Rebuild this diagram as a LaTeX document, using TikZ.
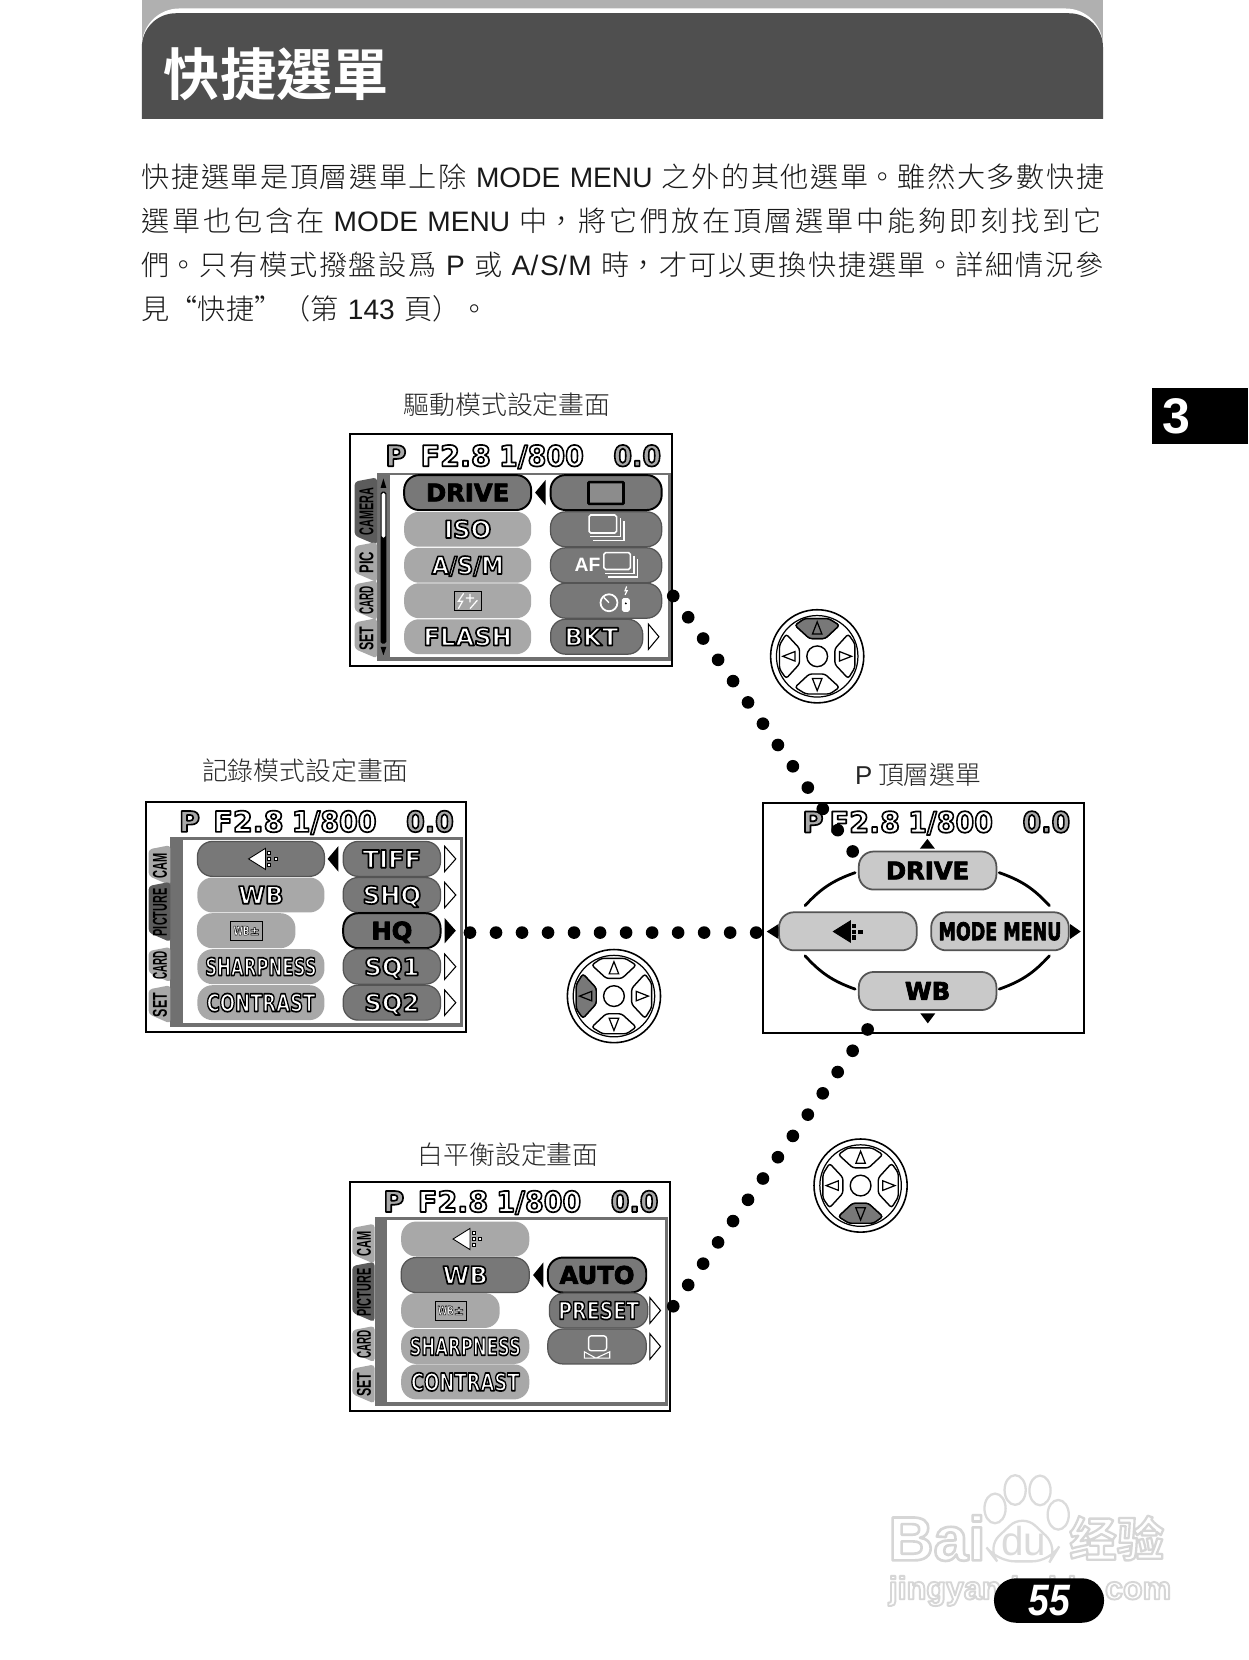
\documentclass[tikz,border=0pt]{standalone}
\usepackage{fontspec}
\setmainfont{Noto Sans CJK TC Light}[BoldFont=Noto Sans CJK TC Bold]
\newfontfamily\latn{Liberation Sans}
\newfontfamily\lcdfont{DejaVu Sans}
\usetikzlibrary{calc}
\XeTeXlinebreaklocale "zh"
\XeTeXlinebreakskip=0pt plus 3pt
\def\uu{0.02117cm}
\definecolor{bandgray}{gray}{.69}
\definecolor{headdark}{gray}{.31}
\definecolor{paneledge}{gray}{.44}
\definecolor{pillpale}{gray}{.66}
\definecolor{pillmid}{gray}{.47}
\definecolor{pillrim}{gray}{.33}
\definecolor{toppill}{gray}{.79}
\definecolor{tabpale}{gray}{.66}
\definecolor{tabdark}{gray}{.36}
\definecolor{markpale}{gray}{.86}
\def\rimw{.95}
% text with a stroked edge: edge gray, fill colour, word
\newcommand\rimtext[3]{\leavevmode{\color{#2}\special{pdf:code #1 G 1 j \rimw\space w 2 Tr}#3\special{pdf:code 0 Tr 0 j}}}
\newcommand\lcdword[2][1]{\scalebox{#1}[1]{\rimtext{0}{white}{#2}}}
\newcommand\lcdheavy[2][1]{\scalebox{#1}[1]{{\def\rimw{.45}\rimtext{0}{black}{#2}}}}
\tikzset{
	pill/.style={rounded corners=.3cm, minimum width=#1*\uu, minimum height=33*\uu, inner sep=0pt, text height=10pt, text depth=0pt, font=\lcdfont\bfseries\fontsize{13.8}{14}\selectfont},
	pilloff/.style={pill=#1, fill=pillpale},
	pillset/.style={pill=#1, fill=pillmid, draw=pillrim, line width=.7pt},
	pillon/.style={pill=#1, fill=pillmid, draw=black, line width=1.1pt},
	pilltop/.style={pill=#1, fill=toppill, draw=pillrim, line width=1pt, minimum height=36*\uu},
	screenbox/.style={draw=black, line width=1.1pt, inner sep=0pt},
	caption/.style={font=\fontsize{14.7}{16}\selectfont, inner sep=0pt, text=black!85},
	headword/.style={font=\lcdfont\bfseries\fontsize{16.3}{17}\selectfont, inner sep=0pt, text height=11.9pt, text depth=0pt},
	tabword/.style={font=\latn\bfseries\fontsize{11.4}{12}\selectfont, inner sep=0pt, rotate=90},
	dotline/.style={line width=7.2pt, line cap=round, dash pattern=on 0pt off 14.8pt},
	ringline/.style={line width=1.6pt, line cap=round}
}
% header line of an lcd screen
\newcommand\lcdhead[4]{
	\node[headword] (#1P) at (#2,#4) {\rimtext{0}{pillpale}{P}};
	\node[headword] (#1F) at (#3,#4) {\rimtext{0}{white}{F2.8}};
	\node[headword] (#1T) at (#3+81,#4) {\scalebox{.94}[1]{\rimtext{0}{white}{1/800}}};
	\node[headword] (#1E) at (#3+171.5,#4) {\scalebox{.94}[1]{\rimtext{0}{pillpale}{0.0}}};
}
\newcommand\lcdpanel[4]{
	\fill[paneledge] (#1,#3) rectangle (#2,#4);
	\fill[white] (#1+12,#3+2.3) rectangle (#2-2.5,#4-3.5);
}
\newcommand\lcdtab[7]{
	\fill[#5, rounded corners=2pt] (#2,#3-3) -- (#1,#3+1) -- (#1,#4-7) -- (#2,#4+2) -- cycle;
	\node[tabword] (tab#7) at ({(#1+#2)/2+.5},{(#3+#4)/2}) {\scalebox{#6}[1]{#7}};
}
\newcommand\solidleft[3]{\fill (#1,#3) -- (#2,#3-12) -- (#2,#3+12) -- cycle;}
\newcommand\openright[3]{\draw[line width=.6pt, fill=white] (#2,#3) -- (#1,#3-12) -- (#1,#3+12) -- cycle;}
\newcommand\burst[4]{
	\draw[white, line width=.9pt, rounded corners=1pt] (#1,#2) rectangle (#1+#3,#2+#4);
	\draw[white, line width=.7pt] (#1+#3+3.5,#2+3) -- (#1+#3+3.5,#2+#4+3.5) -- (#1+1,#2+#4+3.5);
	\draw[white, line width=.7pt] (#1+#3+7,#2+6) -- (#1+#3+7,#2+#4+7) -- (#1+4,#2+#4+7);
}
\newcommand\qualmark[4]{
	\draw[fill=#3, draw=#4, line width=.5pt] (#1,#2) -- (#1+16,#2-10) -- (#1+16,#2+10) -- cycle;
	\foreach \sy in {-7,-1.5,4}{\draw[fill=#3, draw=#4, line width=.4pt] (#1+18,#2+\sy) rectangle (#1+21,#2+\sy+3);}
	\draw[fill=#3, draw=#4, line width=.4pt] (#1+24,#2-1.5) rectangle (#1+27,#2+1.5);
}
\newcommand\padkey[2]{
	\draw[rotate=#1, fill=#2, line width=.8pt, rounded corners=1.5pt] (-21,-29.3) -- (-12,-35.6) -- (10.8,-35.6) -- (21,-29.3) -- (7.5,-16.7) -- (-7.2,-16.7) -- cycle;
	\draw[rotate=#1, line width=.7pt] (0,-32.5) -- (4.5,-21) -- (-4.5,-21) -- cycle;
}
\newcommand\cursorpad[3]{
	\begin{scope}[shift={(#1,#2)}]
		\draw[line width=.9pt, fill=white] (0,0) circle (44);
		\draw[line width=.7pt] (0,0) circle (38.5);
		\draw[line width=.8pt] (0,0) circle (9.8);
		\foreach \r in {0,90,180,270}{\padkey{\r}{white}}
		\padkey{#3}{pillmid}
	\end{scope}
}

\begin{document}
\begin{tikzpicture}[x=\uu, y=-\uu]
			%%%%% PAGE %%%%%
			\useasboundingbox (0,0) rectangle (1179,1568.2);
			\fill[white] (0,0) rectangle (1179,1568.2);
			
			\fill[bandgray] (134,0) rectangle (1042,70);
			\fill[white, rounded corners=.75cm] (134,112) -- (134,8) -- (1042,8) -- (1042,112) -- cycle;
			\fill[headdark, rounded corners=.68cm] (134,150) -- (134,12.5) -- (1042,12.5) -- (1042,150) -- cycle;
			\fill[white] (130,112) rectangle (1046,155);
			\node[font=\bfseries\fontsize{32}{33}\selectfont, text=white, inner sep=0pt, anchor=west] (title) at (154.5,70) {快捷選單};
			
			\node[anchor=west, inner sep=0pt, text width=923*\uu, font=\fontsize{16}{25.1}\selectfont, text=black!90] (intro) at (133.5,229.5) {\tolerance=9999\parfillskip=0pt
				快捷選單是頂層選單上除 {\latn MODE MENU} 之外的其他選單。雖然大多數快捷\kern-1.2pt\par
				選單也包含在 {\latn MODE MENU} 中，將它們放在頂層選單中能夠即刻找到它\kern-7pt\par
				們。只有模式撥盤設爲 {\latn P} 或 {\latn A/S/M} 時，才可以更換快捷選單。詳細情況參\kern-1.8pt\par
				\parfillskip=0pt plus 1fil 見“快捷”（第 {\latn 143} 頁）。};
			
			\fill[black] (1088,367) rectangle (1179,419);
			\node[font=\latn\bfseries\fontsize{28.5}{30}\selectfont, text=white, inner sep=0pt] (chapter) at (1111,393) {3};
			
			%%%%% DRIVE SCREEN %%%%%
			\node[caption] (driveCaption) at (479,382) {驅動模式設定畫面};
			\node[screenbox, minimum width=304*\uu, minimum height=219*\uu] (driveScreen) at (483,519.5) {};
			\lcdhead{drive}{374}{430.5}{430.5}
			\lcdpanel{356.2}{633.5}{446.6}{624.2}
			\lcdtab{335}{356.2}{454}{513}{tabdark}{.54}{CAMERA}
			\lcdtab{335}{356.2}{515}{548}{tabpale}{.65}{PIC}
			\lcdtab{335}{356.2}{551}{584}{tabpale}{.49}{CARD}
			\lcdtab{335}{356.2}{587}{620}{tabpale}{.62}{SET}
			\fill[black, rounded corners=1pt] (359.5,464.5) rectangle (365,608);
			\fill[white, rounded corners=1pt] (360.5,465.5) rectangle (364,508);
			\fill[black] (362.2,452) -- (359.5,461) -- (365,461) -- cycle;
			\fill[black] (362.2,619) -- (359.5,611) -- (365,611) -- cycle;
			\node[pillon=120] (driveA) at (441.8,465.3) {\lcdheavy{DRIVE}};
			\node[pilloff=120] (driveB) at (441.8,500) {\lcdword{ISO}};
			\node[pilloff=120] (driveC) at (441.8,534) {\lcdword[.92]{A/S/M}};
			\node[pilloff=120] (driveD) at (441.8,567.5) {};
			\node[pilloff=120] (driveE) at (441.8,601.5) {\lcdword{FLASH}};
			\node[pillon=105] (shotA) at (572.6,465.3) {};
			\node[pillset=105] (shotB) at (572.6,500) {};
			\node[pillset=105] (shotC) at (572.6,534) {};
			\node[pillset=105] (shotD) at (572.6,567.5) {};
			\node[pillset=87] (shotE) at (563.7,601.5) {\kern-6pt\lcdword{BKT}};
			\solidleft{505.5}{515.5}{465.3}
			\openright{612.5}{622.5}{601.5}
			\draw[line width=1.5pt, fill=black!45, rounded corners=.5pt] (556,455.5) rectangle (589,476);
			\burst{556.5}{486.5}{26}{17}
			\node[font=\latn\bfseries\fontsize{11}{12}\selectfont, text=white, inner sep=0pt] (shotAF) at (555,534) {AF};
			\burst{570.5}{522}{25}{16}
			\draw[white, line width=1pt] (575.3,569.4) circle (8);
			\draw[white, line width=.8pt] (575.3,569.4) -- (570.5,564.5);
			\fill[white, rounded corners=1pt] (587.5,565) rectangle (595,578);
			\fill[black] (591.2,570) circle (1);
			\draw[white, line width=.7pt] (592,554) -- (590.5,558) -- (592.5,558) -- (590.5,562);
			\draw[line width=.6pt, fill=black!35] (429,558.5) rectangle (454.5,577);
			\draw[white, line width=.7pt] (438,560.5) -- (433,568) -- (437,568) -- (433,575);
			\draw[white, line width=.7pt] (440,565) -- (448,565) (444,561) -- (444,569) (444,575) -- (451,567);
			
			%%%%% PICTURE SCREEN %%%%%
			\node[caption] (pictureCaption) at (288.5,728) {記錄模式設定畫面};
			\node[screenbox, minimum width=303*\uu, minimum height=218*\uu] (pictureScreen) at (289,866.3) {};
			\lcdhead{picture}{179}{234.7}{776}
			\lcdpanel{161}{437.3}{791}{970}
			\lcdtab{140.4}{161}{801.4}{834.5}{tabpale}{.55}{CAM}
			\lcdtab{140.4}{161}{836}{888}{tabdark}{.54}{PICTURE}
			\lcdtab{140.4}{161}{897.5}{926}{tabpale}{.49}{CARD}
			\lcdtab{140.4}{161}{933.7}{965}{tabpale}{.62}{SET}
			\node[pillset=120] (pictureA) at (246.5,811.4) {};
			\node[pilloff=120] (pictureB) at (246.5,845.5) {\lcdword{WB}};
			\node[pilloff=93] (pictureC) at (232.6,879.2) {};
			\node[pilloff=120] (pictureD) at (246.5,913.2) {\lcdword[.68]{SHARPNESS}};
			\node[pilloff=120] (pictureE) at (246.5,947.2) {\lcdword[.74]{CONTRAST}};
			\node[pillset=92] (qualA) at (370.2,811.4) {\lcdword{TIFF}};
			\node[pillset=92] (qualB) at (370.2,845.5) {\lcdword{SHQ}};
			\node[pillon=92] (qualC) at (370.2,879.2) {\lcdheavy{HQ}};
			\node[pillset=92] (qualD) at (370.2,913.2) {\lcdword{SQ1}};
			\node[pillset=92] (qualE) at (370.2,947.2) {\lcdword{SQ2}};
			\solidleft{309.5}{319.6}{811.4}
			\fill (430.6,879.2) -- (420,867.2) -- (420,891.2) -- cycle;
			\foreach \y in {811.4,845.5,913.2,947.2}{\openright{420}{430.6}{\y}}
			\qualmark{234.8}{811.4}{white}{black}
			\node[draw=black, line width=.5pt, fill=black!35, inner sep=1pt, minimum width=30*\uu, minimum height=18*\uu, font=\lcdfont\bfseries\fontsize{7}{8}\selectfont] (wbMarkA) at (233,879.2) {{\def\rimw{.3}\scalebox{.7}[1]{\rimtext{0}{white}{WB}}\rimtext{0}{white}{±}}};
			
			%%%%% TOP SCREEN %%%%%
			\node[caption, anchor=center] (topCaption) at (867.5,732) {{\latn P} 頂層選單};
			\node[screenbox, minimum width=304*\uu, minimum height=217*\uu] (topScreen) at (872.4,867) {};
			\lcdhead{top}{768}{817}{776.5}
			\node[pilltop=130] (topDrive) at (876.3,822.4) {\lcdheavy{DRIVE}};
			\node[pilltop=130] (topWB) at (876.3,936.2) {\lcdheavy{WB}};
			\node[pilltop=130] (topQual) at (801,879.8) {};
			\node[pilltop=130] (topMode) at (944.7,879.8) {\lcdheavy[.72]{MODE MENU}};
			\coordinate (arcNWa) at (807.8,824.4);
			\coordinate (arcNWb) at (760.5,855.6);
			\coordinate (arcNEa) at (944,824.4);
			\coordinate (arcNEb) at (991.4,855.6);
			\coordinate (arcSWa) at (760.5,902.9);
			\coordinate (arcSWb) at (807.8,934.4);
			\coordinate (arcSEa) at (991.4,902.9);
			\coordinate (arcSEb) at (944,934.4);
			\draw[ringline] (arcNWa) to[bend right=14] (arcNWb);
			\draw[ringline] (arcNEa) to[bend left=14] (arcNEb);
			\draw[ringline] (arcSWa) to[bend right=14] (arcSWb);
			\draw[ringline] (arcSEa) to[bend left=14] (arcSEb);
			\fill (876.1,792.5) -- (869,801.7) -- (883.2,801.7) -- cycle;
			\fill (876.5,966.8) -- (869.5,957.4) -- (883.5,957.4) -- cycle;
			\fill (724.3,880) -- (735.3,873) -- (735.3,887) -- cycle;
			\fill (1021,880) -- (1011,873) -- (1011,887) -- cycle;
			\qualmark{787.3}{880}{black}{black}
			
			%%%%% WB SCREEN %%%%%
			\node[caption] (wbCaption) at (480,1091) {白平衡設定畫面};
			\node[screenbox, minimum width=302*\uu, minimum height=216*\uu] (wbScreen) at (482,1224.6) {};
			\lcdhead{wb}{372}{428}{1135}
			\lcdpanel{353.8}{631}{1150}{1328.3}
			\lcdtab{332.8}{353.8}{1159}{1192}{tabpale}{.55}{CAM}
			\lcdtab{332.8}{353.8}{1195}{1247}{tabdark}{.54}{PICTURE}
			\lcdtab{332.8}{353.8}{1255.6}{1285}{tabpale}{.49}{CARD}
			\lcdtab{332.8}{353.8}{1292}{1324}{tabpale}{.62}{SET}
			\node[pilloff=121] (wbA) at (439.5,1170.5) {};
			\node[pillset=121] (wbB) at (439.5,1204.5) {\lcdword{WB}};
			\node[pilloff=93] (wbC) at (425.5,1238) {};
			\node[pilloff=121] (wbD) at (439.5,1272) {\lcdword[.68]{SHARPNESS}};
			\node[pilloff=121] (wbE) at (439.5,1305.5) {\lcdword[.74]{CONTRAST}};
			\node[pillon=93] (whiteA) at (564,1204.5) {\lcdheavy{AUTO}};
			\node[pillset=93] (whiteB) at (565.5,1238) {\lcdword[.78]{PRESET}};
			\node[pillset=93] (whiteC) at (564,1272) {};
			\solidleft{503.6}{513.4}{1204.5}
			\openright{614}{624}{1238}
			\openright{614}{624}{1272}
			\qualmark{428}{1170.5}{white}{black}
			\node[draw=black, line width=.5pt, fill=black!35, inner sep=1pt, minimum width=30*\uu, minimum height=18*\uu, font=\lcdfont\bfseries\fontsize{7}{8}\selectfont] (wbMarkB) at (426,1238) {{\def\rimw{.3}\scalebox{.7}[1]{\rimtext{0}{white}{WB}}\rimtext{0}{white}{±}}};
			\draw[white, line width=.8pt, rounded corners=1.5pt] (556,1262) rectangle (573,1276);
			\draw[white, line width=.6pt] (552,1283) -- (552,1277) -- (563,1283) -- (576,1277) -- (576,1283) -- cycle;
			
			%%%%% CURSOR PADS %%%%%
			\cursorpad{772}{620}{0}
			\cursorpad{580}{941}{90}
			\cursorpad{813}{1120}{180}
			
			%%%%% WATERMARK %%%%%
			\foreach \tx/\ty in {940/1425,959/1407.6,982.5/1408,999.7/1431}{\draw[markpale, line width=1.3pt, fill=white] (\tx,\ty) ellipse (10 and 14);}
			\draw[markpale, line width=1.3pt, fill=white, rounded corners=.35cm] (966,1430) -- (1000,1462) -- (992,1475) -- (942,1475) -- (932,1462) -- cycle;
			\node[font=\latn\bfseries\fontsize{35.5}{38}\selectfont, inner sep=0pt, anchor=west] (markBai) at (839,1453) {{\def\rimw{1.5}\rimtext{.84}{white}{Bai}}};
			\node[font=\latn\fontsize{23}{24}\selectfont, inner sep=0pt, text=markpale] (markDu) at (967,1456) {du};
			\node[font=\bfseries\fontsize{27}{28}\selectfont, inner sep=0pt] (markJing) at (1055,1453) {{\def\rimw{1.3}\rimtext{.84}{white}{经验}}};
			\node[font=\latn\bfseries\fontsize{18.3}{20}\selectfont, inner sep=0pt] (markUrl) at (973,1503) {{\def\rimw{1.1}\rimtext{.84}{white}{jingyan.baidu.com}}};
			
			\node[fill=black, rounded corners=.44cm, minimum width=104*\uu, minimum height=42*\uu, inner sep=0pt, font=\latn\bfseries\itshape\fontsize{25}{26}\selectfont, text=white] (pageBadge) at (991,1512) {\scalebox{.85}[1]{55}};
			
			%%%%% DOTS %%%%%
			\coordinate (dotDriveA) at (636,563);
			\coordinate (dotDriveB) at (806,805);
			\coordinate (dotPictureA) at (444,881);
			\coordinate (dotPictureB) at (716,881);
			\coordinate (dotWbA) at (636,1234);
			\coordinate (dotWbB) at (820,972);
			\draw[dotline] (dotDriveA) -- (dotDriveB);
			\draw[dotline] (dotPictureA) -- (dotPictureB);
			\draw[dotline] (dotWbA) -- (dotWbB);
			%%%%% END %%%%%
		\end{tikzpicture}
\end{document}
